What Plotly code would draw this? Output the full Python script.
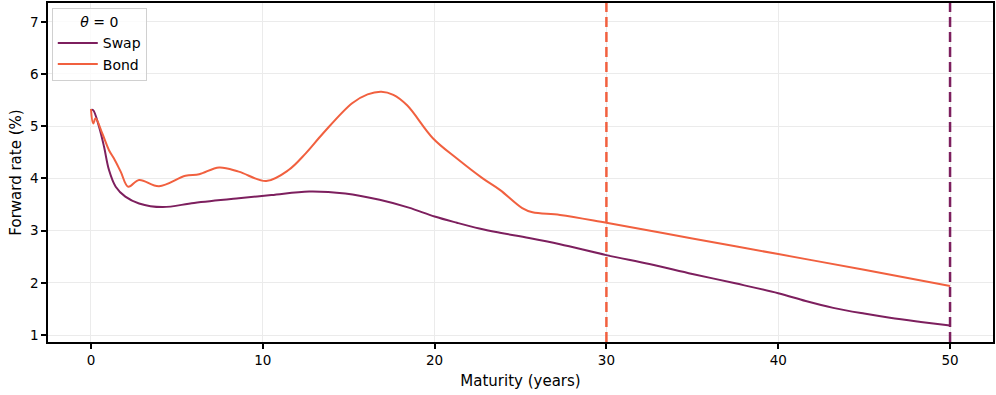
import plotly.graph_objects as go

# Swap forward curve (maturity in years, forward rate in %)
swap_t = [0.0, 0.12, 0.47, 0.76, 1.05, 1.44, 2.0, 2.8, 4.16, 6.0, 8.6, 10.5, 12.7, 14.8, 16.8, 18.5, 20.0, 21.3, 22.6, 23.8, 25.5, 27.3, 30.0, 32.5, 35.0, 37.5, 40.0, 41.6, 43.2, 45.0, 46.5, 48.3, 50.0]
swap_r = [5.31, 5.31, 4.99, 4.61, 4.16, 3.84, 3.65, 3.52, 3.45, 3.53, 3.62, 3.68, 3.75, 3.71, 3.59, 3.44, 3.27, 3.15, 3.04, 2.96, 2.86, 2.74, 2.53, 2.36, 2.17, 1.99, 1.80, 1.65, 1.52, 1.41, 1.33, 1.25, 1.18]

# Bond forward curve
bond_t = [0.0, 0.13, 0.27, 0.66, 1.05, 1.34, 1.73, 2.17, 2.8, 3.96, 5.5, 6.3, 7.46, 8.6, 10.2, 11.5, 12.5, 13.5, 15.2, 16.1, 16.9, 17.6, 18.4, 19.9, 21.3, 22.8, 23.8, 25.1, 25.7, 27.3, 30.0, 35.0, 40.0, 45.0, 50.0]
bond_r = [5.33, 5.05, 5.15, 4.86, 4.54, 4.38, 4.13, 3.84, 3.97, 3.85, 4.05, 4.08, 4.21, 4.13, 3.95, 4.16, 4.48, 4.86, 5.44, 5.61, 5.66, 5.60, 5.40, 4.77, 4.38, 4.00, 3.78, 3.43, 3.35, 3.30, 3.15, 2.85, 2.55, 2.25, 1.94]

# Vertical markers (last maturity of each curve)
vline_x = [30, 50]
x_ticks = [0, 10, 20, 30, 40, 50]
y_ticks = [1, 2, 3, 4, 5, 6, 7]

SWAP_COLOR = "#7d1f5e"
BOND_COLOR = "#f1603f"

fig = go.Figure()
fig.add_trace(go.Scatter(x=swap_t, y=swap_r, mode="lines", name="Swap",
                         line=dict(color=SWAP_COLOR, width=2, shape="spline", smoothing=1.0)))
fig.add_trace(go.Scatter(x=bond_t, y=bond_r, mode="lines", name="Bond",
                         line=dict(color=BOND_COLOR, width=2, shape="spline", smoothing=1.0)))

for xv, col in zip(vline_x, [BOND_COLOR, SWAP_COLOR]):
    fig.add_shape(type="line", xref="x", yref="paper", x0=xv, x1=xv, y0=0, y1=1,
                  line=dict(color=col, width=2.5, dash="10px,5px"))

axis_common = dict(showline=True, linecolor="black", linewidth=1.5, mirror=True,
                   ticks="outside", ticklen=5, tickwidth=1.5, tickcolor="black",
                   showgrid=True, gridcolor="#ebebeb", gridwidth=1, zeroline=False,
                   automargin=False, tickfont=dict(size=13.5, color="black"))

fig.update_xaxes(range=[-2.5, 52.5], tickvals=x_ticks,
                 title=dict(text="Maturity (years)", font=dict(size=15, color="black"), standoff=9),
                 **axis_common)
fig.update_yaxes(range=[0.866, 7.36], tickvals=y_ticks,
                 title=dict(text="Forward rate (%)", font=dict(size=15, color="black"), standoff=5),
                 **axis_common)

fig.update_layout(
    width=996, height=395,
    margin=dict(l=48, r=3, t=3, b=53, autoexpand=False),
    plot_bgcolor="white", paper_bgcolor="white",
    font=dict(family="DejaVu Sans", size=13, color="black"),
    legend=dict(x=0.004, y=0.985, xanchor="left", yanchor="top",
                title=dict(text="<i>θ</i> = 0", side="top center", font=dict(size=14)),
                bgcolor="rgba(255,255,255,0.8)", bordercolor="#d0d0d0", borderwidth=1,
                font=dict(size=14), itemwidth=40),
    showlegend=True,
)

fig.write_html("out.html", config={"displayModeBar": False},
               post_script="document.body.style.margin='0';document.body.style.overflow='hidden';")
